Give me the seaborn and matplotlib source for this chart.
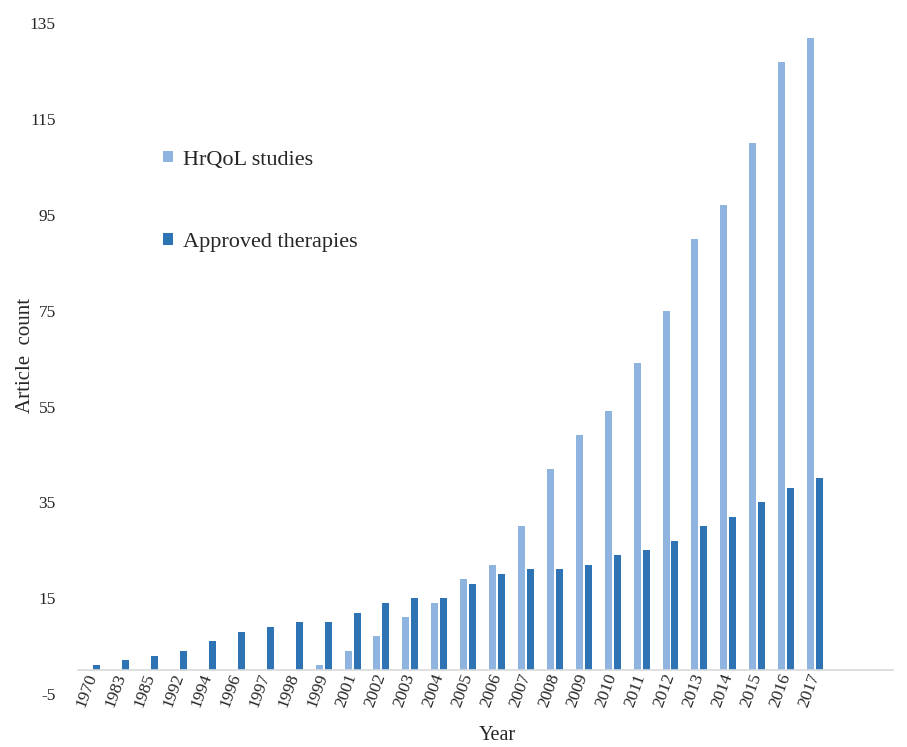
import matplotlib
matplotlib.use("Agg")
import matplotlib.pyplot as plt
import seaborn as sns
import pandas as pd

years = ["1970", "1983", "1985", "1992", "1994", "1996", "1997", "1998", "1999",
         "2001", "2002", "2003", "2004", "2005", "2006", "2007", "2008", "2009",
         "2010", "2011", "2012", "2013", "2014", "2015", "2016", "2017"]
hrqol = [0, 0, 0, 0, 0, 0, 0, 0, 1, 4, 7, 11, 14, 19, 22, 30, 42, 49, 54, 64,
         75, 90, 97, 110, 127, 132]
approved = [1, 2, 3, 4, 6, 8, 9, 10, 10, 12, 14, 15, 15, 18, 20, 21, 21, 22,
            24, 25, 27, 30, 32, 35, 38, 40]
series_names = ["HrQoL studies", "Approved therapies"]
colors = ["#8FB4E0", "#2E74B5"]
yticks = [-5, 15, 35, 55, 75, 95, 115, 135]

df = pd.DataFrame({
    "Year": years * 2,
    "Count": hrqol + approved,
    "Series": [series_names[0]] * len(years) + [series_names[1]] * len(years),
})

sns.set_theme(style="white")
plt.rcParams["font.family"] = ["Liberation Serif", "DejaVu Serif"]

fig = plt.figure(figsize=(9.07, 7.47), dpi=100)
ax = fig.add_axes([0.086, 0.071, 0.8986, 0.8978])

sns.barplot(data=df, x="Year", y="Count", hue="Series", order=years,
            hue_order=series_names, palette=colors, width=0.62, gap=0.22,
            saturation=1, ax=ax, linewidth=0)

for s in ["top", "right", "left"]:
    ax.spines[s].set_visible(False)
ax.spines["bottom"].set_position(("data", 0))
ax.spines["bottom"].set_color("#D9D9D9")
ax.spines["bottom"].set_linewidth(1.2)

ax.set_ylim(-5, 135)
ax.set_xlim(-0.5, 27.7)
ax.set_yticks(yticks)
ax.set_yticklabels([str(v) for v in yticks], fontsize=12.5)
ax.set_xticks(range(len(years)))
ax.set_xticklabels(years, rotation=70, ha="right", va="center",
                   rotation_mode="anchor", fontsize=12.5)
ax.tick_params(axis="y", length=0, pad=16)
ax.tick_params(axis="x", length=0, pad=3)

ax.set_xlabel("Year", fontsize=14.5)
ax.xaxis.set_label_coords(0.515, -0.048)
ax.set_ylabel("Article  count", fontsize=15)
ax.yaxis.set_label_coords(-0.053, 0.505)

ax.legend(loc="upper left", bbox_to_anchor=(0.08, 0.84), frameon=False,
          fontsize=16, handlelength=0.42, handleheight=0.42, handletextpad=0.45,
          labelspacing=2.85)

fig.savefig("out.png", dpi=100)
